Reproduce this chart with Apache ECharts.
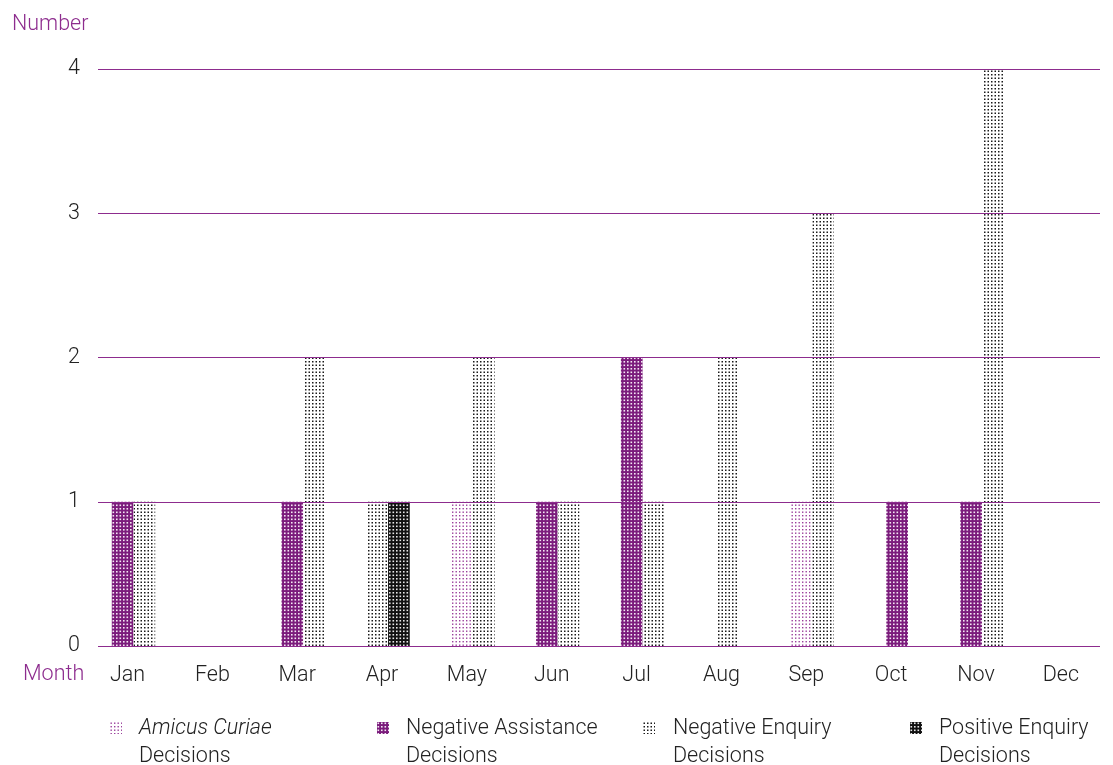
<!DOCTYPE html>
<html>
<head>
<meta charset="utf-8">
<script src="https://cdn.jsdelivr.net/npm/echarts@6/dist/echarts.min.js"></script>
<style>
  html, body { margin: 0; padding: 0; background: #ffffff; }
  #chart { width: 1113px; height: 765px; }
</style>
</head>
<body>
<div id="chart"></div>
<script>
// Monthly decisions by type
const months = ['Jan', 'Feb', 'Mar', 'Apr', 'May', 'Jun', 'Jul', 'Aug', 'Sep', 'Oct', 'Nov', 'Dec'];
const amicusCuriae       = [0, 0, 0, 0, 1, 0, 0, 0, 1, 0, 0, 0];
const negativeAssistance = [1, 0, 1, 0, 0, 1, 2, 0, 0, 1, 1, 0];
const negativeEnquiry    = [1, 0, 2, 1, 2, 1, 1, 2, 3, 0, 4, 0];
const positiveEnquiry    = [0, 0, 0, 1, 0, 0, 0, 0, 0, 0, 0, 0];
const yTicks = [0, 1, 2, 3, 4];
const seriesNames = ['Amicus Curiae', 'Negative Assistance', 'Negative Enquiry', 'Positive Enquiry'];

const allSeries = [amicusCuriae, negativeAssistance, negativeEnquiry, positiveEnquiry];

const PURPLE = '#7b1c7c';
const LINE = '#8d2c8e';
const TEXT = '#222222';
const FONT = 'Roboto, "Liberation Sans", sans-serif';
const FONT_SIZE = 21.5;
const BAR_W = 21.7;

// Dotted fills: a small tile repeated over each bar
function dotPattern(bg, dot, size) {
  const c = document.createElement('canvas');
  c.width = 7; c.height = 7;
  const g = c.getContext('2d');
  if (bg) { g.fillStyle = bg; g.fillRect(0, 0, 7, 7); }
  g.fillStyle = dot;
  [0.5, 4].forEach(function (x) {
    [0.5, 4].forEach(function (y) { g.fillRect(x, y, size, size); });
  });
  return { image: c, repeat: 'repeat' };
}

const fills = [
  dotPattern('#ffffff', '#9a3f9b', 1.4),   // Amicus Curiae
  dotPattern(PURPLE, '#f4e8f4', 1.6),      // Negative Assistance
  dotPattern('#ffffff', '#1a1a1a', 1.5),   // Negative Enquiry
  dotPattern('#111111', '#e8e8e8', 1.6)    // Positive Enquiry
];

// Bars of one month sit side by side, centred on the month
function makeRenderer(sIndex) {
  return function (params, api) {
    const m = api.value(0);
    const v = api.value(1);
    if (!v) return null;
    const i = m - 1;
    const active = [];
    allSeries.forEach(function (arr, k) { if (arr[i] > 0) active.push(k); });
    const pos = active.indexOf(sIndex);
    const n = active.length;
    const base = api.coord([m, 0]);
    const top = api.coord([m, v]);
    const x = base[0] + (pos - n / 2) * BAR_W;
    return {
      type: 'rect',
      shape: { x: x, y: top[1], width: BAR_W, height: base[1] - top[1] },
      style: { fill: fills[sIndex] }
    };
  };
}

const series = allSeries.map(function (arr, k) {
  return {
    type: 'custom',
    name: seriesNames[k],
    renderItem: makeRenderer(k),
    data: months.map(function (_, i) { return [i + 1, arr[i]]; }),
    z: 2
  };
});

// Legend drawn as graphic items (icon + two-line caption)
const legendIconX = [110, 377, 643, 910];
const legendTextX = [139, 406, 673, 939];
const legendGraphics = [];
seriesNames.forEach(function (name, k) {
  legendGraphics.push({
    type: 'rect',
    left: legendIconX[k], top: 722,
    shape: { width: 12, height: 12 },
    style: { fill: fills[k] }
  });
  const label = k === 0 ? '{i|' + name + '}\nDecisions' : name + '\nDecisions';
  legendGraphics.push({
    type: 'text',
    left: legendTextX[k], top: 715,
    style: {
      text: label,
      font: '300 ' + FONT_SIZE + 'px ' + FONT,
      fill: TEXT,
      lineHeight: 28,
      rich: { i: { fontStyle: 'italic', fontSize: FONT_SIZE, fontWeight: 300, fontFamily: FONT, fill: TEXT, lineHeight: 28 } }
    }
  });
});

const chart = echarts.init(document.getElementById('chart'), null, { renderer: 'canvas' });

chart.setOption({
  animation: false,
  backgroundColor: '#ffffff',
  textStyle: { fontFamily: FONT },
  grid: { left: 98, right: 13, top: 69, bottom: 119 },
  xAxis: {
    type: 'value',
    min: 0.5816,
    max: 12.3907,
    splitLine: { show: false },
    axisLine: { show: false },
    axisTick: { show: false },
    axisLabel: {
      customValues: months.map(function (_, i) { return i + 1; }),
      formatter: function (v) { return months[Math.round(v) - 1]; },
      color: TEXT,
      fontSize: FONT_SIZE,
      fontWeight: 300,
      fontFamily: FONT,
      margin: 19,
      padding: [0, 12, 0, 0]
    }
  },
  yAxis: {
    type: 'value',
    min: yTicks[0],
    max: yTicks[yTicks.length - 1],
    interval: 1,
    z: 5,  // rules sit over the bars
    axisLine: { show: false },
    axisTick: { show: false },
    splitLine: { show: true, lineStyle: { color: LINE, width: 1 } },
    axisLabel: { color: TEXT, fontSize: FONT_SIZE, fontWeight: 300, fontFamily: FONT, margin: 18 }
  },
  graphic: [
    {
      type: 'text', left: 12, top: 14,
      style: { text: 'Number', font: '300 ' + FONT_SIZE + 'px ' + FONT, fill: LINE }
    },
    {
      type: 'text', left: 23, top: 664,
      style: { text: 'Month', font: '300 ' + FONT_SIZE + 'px ' + FONT, fill: LINE }
    }
  ].concat(legendGraphics),
  series: series
});
</script>
</body>
</html>
